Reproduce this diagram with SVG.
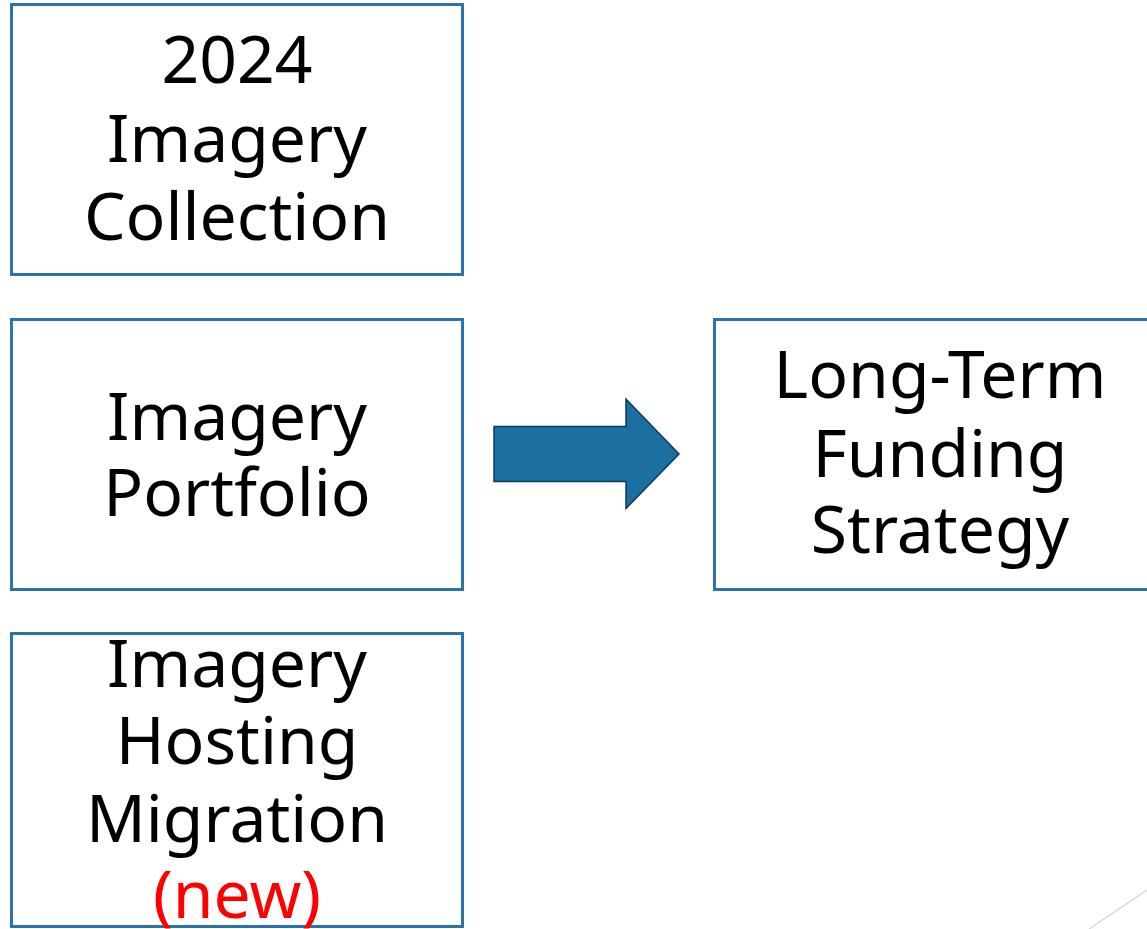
<svg xmlns="http://www.w3.org/2000/svg" width="1147" height="929" viewBox="0 0 1147 929">
<style>
.box{fill:#fff;stroke:#2b73a8;stroke-width:3}
.t{font-family:"Noto Sans","DejaVu Sans",sans-serif;font-size:66px;fill:#000;text-anchor:middle}
.red{fill:#ff0000}
</style>
<rect width="1147" height="929" fill="#fff"/>
<g id="node-collection">
<rect class="box" x="11.5" y="4.5" width="451" height="270"/>
<text class="t" x="237" y="83">2024</text>
<text class="t" x="237" y="162">Imagery</text>
<text class="t" x="237" y="240">Collection</text>
</g>
<g id="node-portfolio">
<rect class="box" x="11.5" y="319.5" width="451" height="270"/>
<text class="t" x="237" y="440">Imagery</text>
<text class="t" x="237" y="516">Portfolio</text>
</g>
<g id="node-hosting">
<rect class="box" x="11.5" y="633.5" width="451" height="293"/>
<text class="t" x="237" y="687">Imagery</text>
<text class="t" x="237" y="764">Hosting</text>
<text class="t" x="237" y="842">Migration</text>
<text class="t red" x="237" y="918">(new)</text>
</g>
<g id="node-funding">
<rect class="box" x="714.5" y="319.5" width="452" height="270"/>
<text class="t" x="940" y="398">Long-Term</text>
<text class="t" x="940" y="477">Funding</text>
<text class="t" x="940" y="553">Strategy</text>
</g>
<g id="connectors">
<path d="M494,426.5 H626 V399 L679,454 L626,508.5 V481.5 H494 Z" fill="#1b6fa1" stroke="#0e3a5c" stroke-width="1.5" stroke-linejoin="miter"/>
</g>
<line x1="1089" y1="929" x2="1147" y2="890" stroke="#d9d9d9" stroke-width="1.5"/>
</svg>
